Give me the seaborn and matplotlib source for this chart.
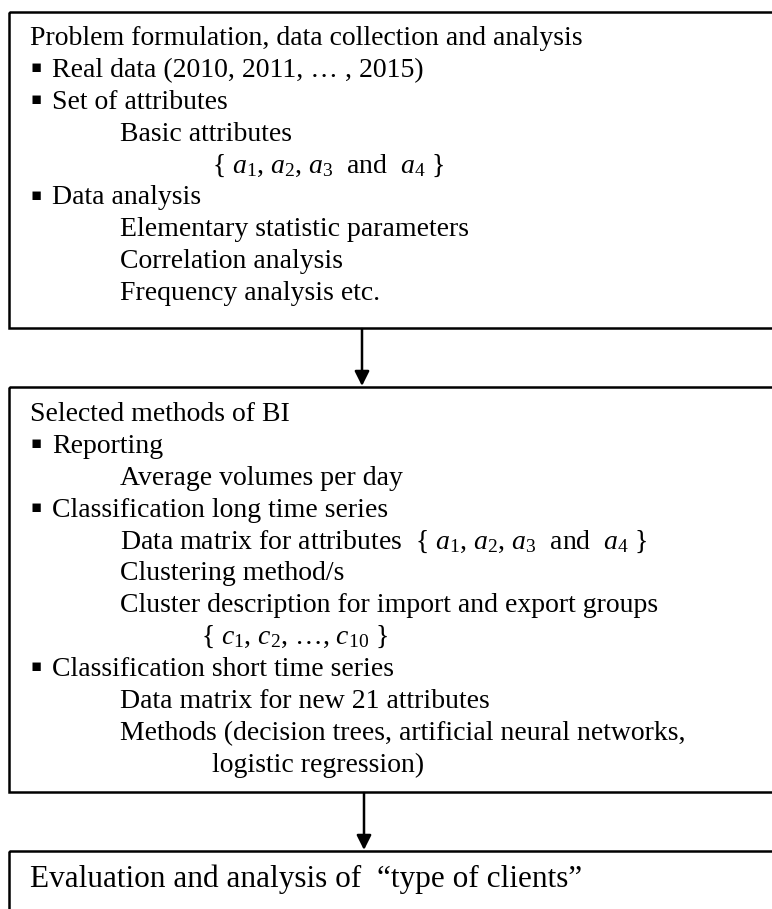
import matplotlib
matplotlib.use("Agg")
import matplotlib.pyplot as plt
import seaborn as sns
from matplotlib.patches import Rectangle

sns.set_theme(style="white")
plt.rcParams["font.family"] = ["Liberation Serif", "DejaVu Sans"]
plt.rcParams["mathtext.fontset"] = "custom"
plt.rcParams["mathtext.rm"] = "Liberation Serif"
plt.rcParams["mathtext.it"] = "Liberation Serif:italic"
plt.rcParams["mathtext.bf"] = "Liberation Serif:bold"

# ---- content (level: 0 = heading, 1 = bullet, 2 = indent, 3/4 = deep indent)
box1_levels = [0, 1, 1, 2, 3, 1, 2, 2, 2]
box1_lines = [
    "Problem formulation, data collection and analysis",
    "Real data (2010, 2011, … , 2015)",
    "Set of attributes",
    "Basic attributes",
    r"{ $a_1$, $a_2$, $a_3$  and  $a_4$ }",
    "Data analysis",
    "Elementary statistic parameters",
    "Correlation analysis",
    "Frequency analysis etc.",
]
box2_levels = [0, 1, 2, 1, 2, 2, 2, 4, 1, 2, 2, 3]
box2_lines = [
    "Selected methods of BI",
    "Reporting",
    "Average volumes per day",
    "Classification long time series",
    r"Data matrix for attributes  { $a_1$, $a_2$, $a_3$  and  $a_4$ }",
    "Clustering method/s",
    "Cluster description for import and export groups",
    r"{ $c_1$, $c_2$, …, $c_{10}$ }",
    "Classification short time series",
    "Data matrix for new 21 attributes",
    "Methods (decision trees, artificial neural networks,",
    "logistic regression)",
]
box3_levels = [0]
box3_lines = ["Evaluation and analysis of  “type of clients”"]

W, H = 772, 909
fig = plt.figure(figsize=(W / 100, H / 100), dpi=100)
ax = fig.add_axes([0, 0, 1, 1])
ax.set_xlim(0, W)
ax.set_ylim(H, 0)
ax.axis("off")

FS = 20
LINE = 31.9
X_LEVEL = {0: 30, 1: 52, 2: 120, 3: 212, 4: 201}
BULLET_X = 31
LW = 1.8

def draw_box(top, bottom, lines, levels, first_baseline, fs=FS):
    ax.add_patch(Rectangle((9, top), 800, bottom - top, fill=False,
                           edgecolor="black", linewidth=LW, clip_on=True))
    for i, (txt, lev) in enumerate(zip(lines, levels)):
        y = first_baseline + i * LINE
        ax.text(X_LEVEL[lev], y, txt, fontsize=fs, color="black",
                va="baseline", ha="left")
        if lev == 1:
            ax.text(BULLET_X, y - 10, "▪", fontsize=12, color="black",
                    va="center", ha="left", family=["DejaVu Sans"])

draw_box(12, 328, box1_lines, box1_levels, 45)
draw_box(387, 792, box2_lines, box2_levels, 421)
draw_box(851, 940, box3_lines, box3_levels, 887, fs=22.5)

def arrow(x, y0, y1):
    ax.annotate("", xy=(x, y1), xytext=(x, y0),
                arrowprops=dict(arrowstyle="-|>", color="black", lw=LW,
                                mutation_scale=22, shrinkA=0, shrinkB=0))

arrow(362, 329, 386)
arrow(364, 793, 850)

fig.savefig("out.png", dpi=100)
